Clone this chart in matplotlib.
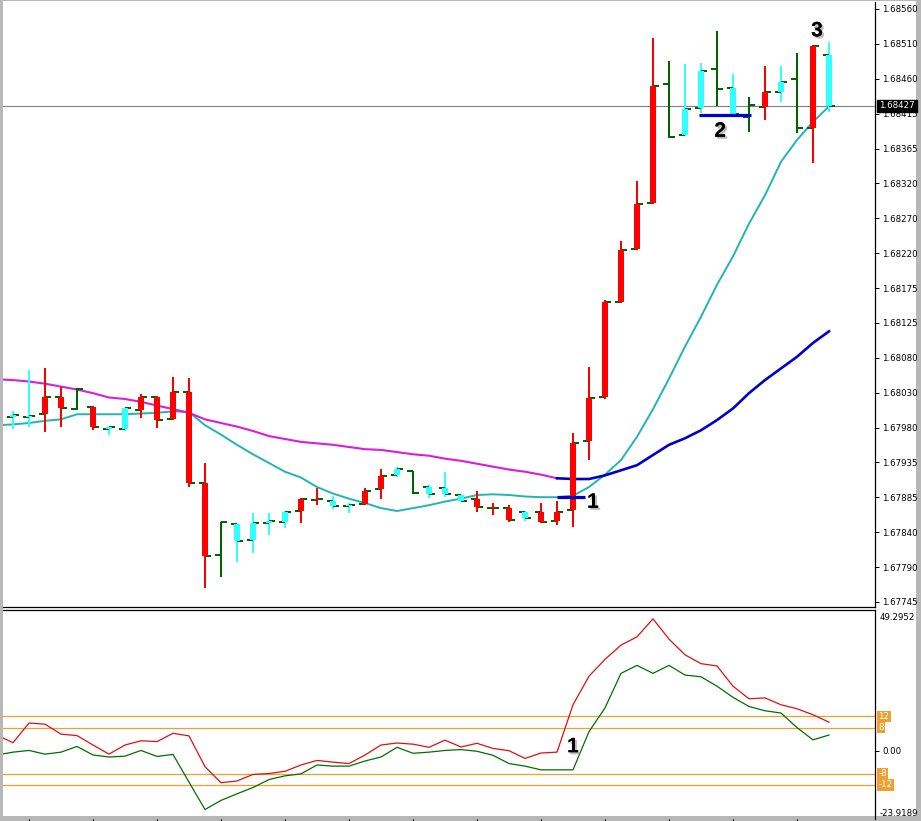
import numpy as np
import matplotlib
matplotlib.use("Agg")
import matplotlib.pyplot as plt
from matplotlib import patheffects as pe
from matplotlib.patches import Rectangle

# ---------------- data ----------------
opens = [1.67999, 1.67999, 1.68003, 1.68027, 1.68010, 1.68013, 1.67983, 1.67983, 1.68009, 1.68027,
         1.67997, 1.68034, 1.67909, 1.67810, 1.67852, 1.67830, 1.67854, 1.67855, 1.67870, 1.67885,
         1.67884, 1.67877, 1.67880, 1.67900, 1.67920, 1.67925, 1.67903, 1.67902, 1.67892, 1.67887,
         1.67874, 1.67874, 1.67869, 1.67869, 1.67856, 1.67871, 1.67966, 1.68027, 1.68157, 1.68230,
         1.68293, 1.68457, 1.68387, 1.68424, 1.68478, 1.68451, 1.68412, 1.68425, 1.68446, 1.68464,
         1.68396, 1.68497]
highs = [1.68007, 1.68064, 1.68067, 1.68040, 1.68039, 1.68014, 1.67986, 1.68012, 1.68031, 1.68028,
         1.68054, 1.68053, 1.67936, 1.67855, 1.67852, 1.67867, 1.67867, 1.67870, 1.67888, 1.67902,
         1.67891, 1.67881, 1.67902, 1.67928, 1.67931, 1.67925, 1.67906, 1.67924, 1.67893, 1.67898,
         1.67881, 1.67878, 1.67870, 1.67881, 1.67884, 1.67977, 1.68068, 1.68160, 1.68241, 1.68324,
         1.68520, 1.68489, 1.68484, 1.68486, 1.68530, 1.68471, 1.68439, 1.68482, 1.68482, 1.68500,
         1.68511, 1.68515]
lows = [1.67983, 1.67985, 1.67979, 1.67985, 1.68009, 1.67981, 1.67974, 1.67980, 1.67998, 1.67984,
        1.67995, 1.67903, 1.67764, 1.67779, 1.67800, 1.67812, 1.67837, 1.67847, 1.67854, 1.67878,
        1.67873, 1.67867, 1.67878, 1.67887, 1.67917, 1.67893, 1.67888, 1.67889, 1.67882, 1.67869,
        1.67865, 1.67855, 1.67856, 1.67854, 1.67851, 1.67848, 1.67940, 1.68024, 1.68156, 1.68229,
        1.68292, 1.68383, 1.68385, 1.68417, 1.68427, 1.68414, 1.68391, 1.68407, 1.68432, 1.68390,
        1.68348, 1.68418]
closes = [1.68002, 1.68001, 1.68027, 1.68012, 1.68038, 1.67985, 1.67985, 1.68012, 1.68027, 1.67995,
          1.68034, 1.67909, 1.67808, 1.67855, 1.67829, 1.67854, 1.67856, 1.67869, 1.67887, 1.67887,
          1.67877, 1.67878, 1.67898, 1.67918, 1.67928, 1.67895, 1.67893, 1.67893, 1.67884, 1.67876,
          1.67874, 1.67858, 1.67860, 1.67855, 1.67869, 1.67964, 1.68025, 1.68157, 1.68229, 1.68292,
          1.68454, 1.68384, 1.68423, 1.68475, 1.68450, 1.68416, 1.68428, 1.68446, 1.68460, 1.68396,
          1.68509, 1.68427]
bar_kind = ["c", "c", "r", "r", "g", "r", "c", "c", "r", "r",
            "r", "r", "r", "g", "c", "c", "c", "c", "r", "r",
            "c", "c", "r", "r", "c", "g", "c", "c", "c", "r",
            "r", "r", "c", "r", "r", "r", "r", "r", "r", "r",
            "r", "g", "c", "c", "g", "c", "g", "r", "c", "g",
            "r", "c"]

# moving averages, bar -1 .. 51
fast_ma = [1.67988, 1.67989, 1.67991, 1.67994, 1.67996, 1.68003, 1.68003, 1.68003, 1.68003, 1.68004,
           1.68005, 1.68007, 1.68006, 1.67988, 1.67975, 1.67961, 1.67948, 1.67936, 1.67924, 1.67916,
           1.67903, 1.67894, 1.67887, 1.67881, 1.67874, 1.67870, 1.67874, 1.67878, 1.67883, 1.67887,
           1.67892, 1.67893, 1.67892, 1.67890, 1.67889, 1.67889, 1.67891, 1.67903, 1.67920, 1.67940,
           1.67972, 1.68010, 1.68052, 1.68096, 1.68137, 1.68181, 1.68220, 1.68265, 1.68304, 1.68350,
           1.68380, 1.68405, 1.68426]
slow_ma = [1.68051, 1.68050, 1.68048, 1.68045, 1.68041, 1.68037, 1.68032, 1.68026, 1.68024, 1.68020,
           1.68015, 1.68010, 1.68005, 1.67996, 1.67991, 1.67986, 1.67980, 1.67973, 1.67969, 1.67965,
           1.67963, 1.67961, 1.67958, 1.67955, 1.67954, 1.67951, 1.67948, 1.67946, 1.67942, 1.67939,
           1.67935, 1.67931, 1.67927, 1.67924, 1.67920, 1.67915, 1.67914, 1.67914, 1.67919, 1.67926,
           1.67933, 1.67947, 1.67961, 1.67970, 1.67981, 1.67995, 1.68011, 1.68032, 1.68050, 1.68066,
           1.68082, 1.68101, 1.68117]
slow_turn_bar = 34   # slow MA drawn magenta up to here, blue after

# indicator lines, bar -1 .. 51
ind_red = [5.5, 2.8, 9.7, 9.3, 5.8, 5.3, 2.0, -1.2, 2.0, 3.5, 3.2, 6.1, 5.2, -5.6, -11.2, -10.6,
           -8.3, -8.0, -7.2, -5.0, -3.4, -4.0, -4.5, -1.5, 2.0, 2.7, 2.3, 1.2, 3.7, 1.3, 2.6, 0.8,
           0.0, -2.7, -0.8, -0.5, 16.1, 26.1, 32.0, 37.0, 39.9, 46.2, 39.1, 33.6, 30.5, 29.7, 22.6,
           18.2, 18.5, 16.1, 14.7, 12.6, 10.0]
ind_green = [-1.5, -0.5, 0.1, -1.2, -0.5, 1.5, -1.5, -2.2, -1.9, 0.1, -2.0, -1.3, -11.0, -20.6,
             -17.4, -15.1, -12.9, -10.1, -8.8, -8.1, -5.0, -5.4, -5.4, -3.6, -2.2, 1.2, -0.9, -0.5,
             0.1, 0.4, -0.2, -1.6, -4.5, -5.4, -6.7, -6.7, -6.7, 6.7, 15.0, 27.1, 29.9, 27.1, 29.9,
             26.5, 25.9, 22.6, 18.7, 15.5, 14.0, 13.2, 8.1, 3.8, 5.5]
ind_levels = [12, 8, -8, -12]
ind_level_labels = ["12", "8", "-8", "-12"]
ind_top, ind_bottom = 49.2952, -23.9189

price_tick_labels = ["1.67745", "1.67790", "1.67840", "1.67885", "1.67935", "1.67980", "1.68030",
                     "1.68080", "1.68125", "1.68175", "1.68220", "1.68270", "1.68320", "1.68365",
                     "1.68415", "1.68460", "1.68510", "1.68560"]
price_tick_lo, price_tick_hi = 1.67745, 1.68560
bid_price = 1.68427

# annotations: (label, bar, value)
main_marks = [("1", 36.25, 1.67882), ("2", 44.2, 1.68392), ("3", 50.25, 1.68530)]
level_segments = [(33.98, 35.75, 1.67889), (42.875, 46.1, 1.68414)]
ind_mark = ("1", 35.0, 1.4)

# ---------------- figure ----------------
W, H = 921, 821
fig = plt.figure(figsize=(W / 100, H / 100), dpi=100, facecolor="white")
plt.rcParams["font.family"] = ["DejaVu Sans"]


def fx(px):
    return px / W


def fy(py):
    return 1 - py / H


ax = fig.add_axes([fx(3), fy(607), fx(875) - fx(3), fy(2) - fy(607)])
ax2 = fig.add_axes([fx(3), fy(819), fx(875) - fx(3), fy(610) - fy(819)])
for a in (ax, ax2):
    a.set_facecolor("none")
    a.set_xlim(-0.625, 53.875)
    a.spines["top"].set_visible(False)
    a.spines["left"].set_visible(False)
    a.spines["right"].set_linewidth(0.9)
ax.spines["bottom"].set_linewidth(0.9)
ax2.spines["bottom"].set_visible(False)
ax2.spines["top"].set_visible(True)
ax2.spines["top"].set_linewidth(0.9)

RED = "#ff0000"
CYAN = "#33ffff"
DKGREEN = "#006400"
col_map = {"r": RED, "c": CYAN, "g": DKGREEN}

n = len(opens)
xb = np.arange(n)
o = np.array(opens)
c = np.array(closes)
hi = np.array(highs)
lo = np.array(lows)
cols = [col_map[k] for k in bar_kind]

ma_x = np.arange(-1, n)
ax.plot(ma_x, fast_ma, color="#22b4b4", lw=1.4, zorder=1)
sm = np.array(slow_ma)
turn = slow_turn_bar + 1
ax.plot(ma_x[:turn + 1], sm[:turn + 1], color="#d81ed8", lw=1.5, zorder=1)
ax.plot(ma_x[turn:], sm[turn:], color="#0000cc", lw=1.9, zorder=1)

# bars
ax.vlines(xb, lo, hi, colors=cols, lw=1.45, zorder=2)
ax.hlines(o, xb - 0.4, xb, colors=DKGREEN, lw=1.45, zorder=2)
ax.hlines(c, xb, xb + 0.4, colors=DKGREEN, lw=1.45, zorder=2)
body_idx = [i for i, k in enumerate(bar_kind) if k != "g"]
bb = np.minimum(o, c)[body_idx]
bh = np.maximum(np.abs(c - o)[body_idx], 0.000018)
ax.bar(xb[body_idx], bh, bottom=bb, width=0.38, color=[cols[i] for i in body_idx],
       linewidth=0, zorder=3)

# bid line
ax.axhline(bid_price, color="#808080", lw=0.8, zorder=0.5)

# blue level segments
for x0, x1, v in level_segments:
    ax.plot([x0, x1], [v, v], color="#0000cc", lw=2.3, solid_capstyle="butt", zorder=4)

shadow = [pe.withSimplePatchShadow(offset=(1.5, -1.5), shadow_rgbFace="#909090", alpha=0.6),
          pe.Normal()]
for lab, bx, v in main_marks:
    ax.text(bx, v, lab, fontsize=15, fontweight="bold", family=["Liberation Sans", "DejaVu Sans"],
            ha="center", va="center", color="black", zorder=6, path_effects=shadow)

# main y axis
ax.set_ylim(1.677381, 1.685696)
ax.yaxis.tick_right()
ax.set_yticks(np.linspace(price_tick_lo, price_tick_hi, len(price_tick_labels)))
ax.set_yticklabels(price_tick_labels)
ax.tick_params(axis="y", direction="out", length=3, width=0.7, pad=2, labelsize=6.2,
               colors="black")
ax.set_xticks([])
ax.annotate(f"{bid_price:.5f}", xy=(1, bid_price), xycoords=("axes fraction", "data"),
            xytext=(3, 0), textcoords="offset points", va="center", ha="left",
            color="white", fontsize=6.2, annotation_clip=False, zorder=10,
            bbox=dict(boxstyle="square,pad=0.2", fc="black", ec="black"))

# ---------------- indicator ----------------
for lv in ind_levels:
    ax2.axhline(lv, color="#f0a030", lw=0.9, zorder=1)
ax2.plot(ma_x, ind_red, color="#e01010", lw=0.9, zorder=2)
ax2.plot(ma_x, ind_green, color="#006f00", lw=0.9, zorder=2)
ax2.set_ylim(ind_bottom, ind_top)
ax2.yaxis.tick_right()
ax2.set_yticks([0])
ax2.set_yticklabels(["0.00"])
ax2.tick_params(axis="y", direction="out", length=3, width=0.7, pad=2, labelsize=6.2,
                colors="black")
ax2.set_xticks(np.arange(1, n, 4))
ax2.tick_params(axis="x", direction="out", length=2.5, width=0.8, labelbottom=False,
                colors="black")
ax2.annotate(f"{ind_top:.4f}", xy=(1, ind_top), xycoords=("axes fraction", "data"),
             xytext=(3, -2.5), textcoords="offset points", va="top", ha="left",
             fontsize=6.2, annotation_clip=False)
ax2.annotate(f"{ind_bottom:.4f}", xy=(1, ind_bottom), xycoords=("axes fraction", "data"),
             xytext=(3, 1), textcoords="offset points", va="bottom", ha="left",
             fontsize=6.2, annotation_clip=False)
for lv, lab in zip(ind_levels, ind_level_labels):
    ax2.annotate(lab, xy=(1, lv), xycoords=("axes fraction", "data"),
                 xytext=(2.5, 0), textcoords="offset points", va="center", ha="left",
                 color="white", fontsize=6.2, annotation_clip=False, zorder=10,
                 bbox=dict(boxstyle="square,pad=0.12", fc="#f0a030", ec="none"))
lab, bx, v = ind_mark
ax2.text(bx, v, lab, fontsize=15, fontweight="bold", family=["Liberation Sans", "DejaVu Sans"],
         ha="center", va="center", color="black", zorder=6, path_effects=shadow)

# window frame
GRAY = "#b8b8b8"
for (x0, y0, x1, y1) in [(0, 0, 3, H), (916, 0, W, H), (0, 816, W, H), (0, 0, W, 1)]:
    fig.add_artist(Rectangle((fx(x0), fy(y1)), fx(x1) - fx(x0), fy(y0) - fy(y1),
                             transform=fig.transFigure, fc=GRAY, ec="none", zorder=-1))

fig.savefig("out.png", dpi=100, facecolor="white")
